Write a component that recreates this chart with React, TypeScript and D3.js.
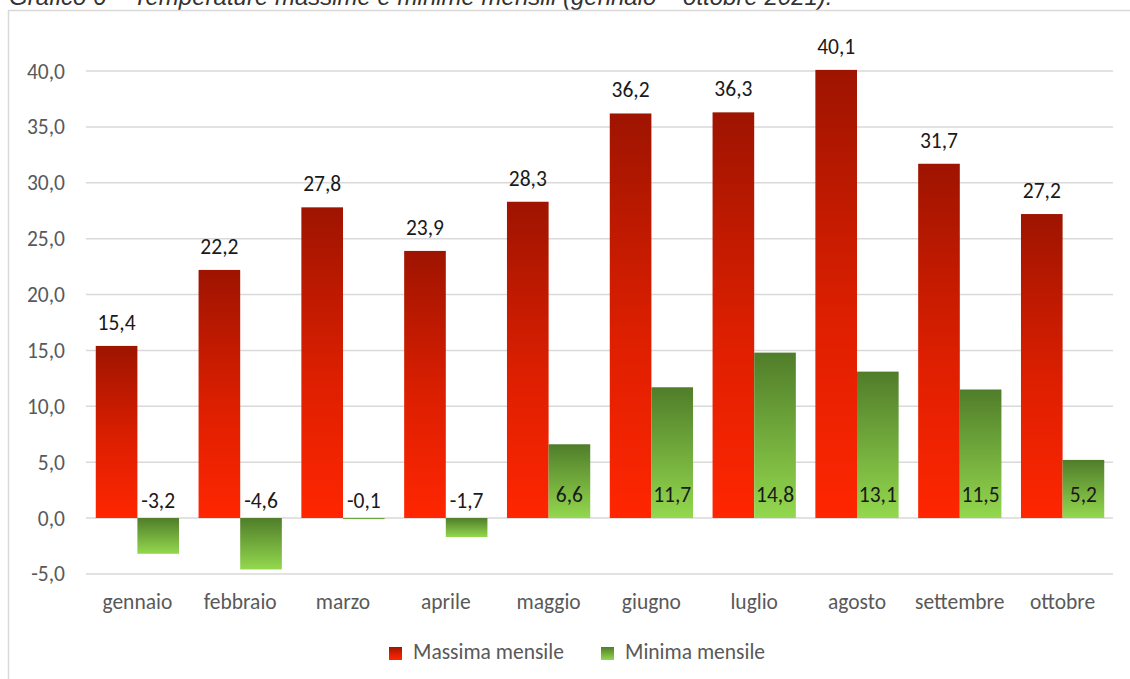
import React from "react";
import * as d3 from "d3";

const months = ["gennaio","febbraio","marzo","aprile","maggio","giugno","luglio","agosto","settembre","ottobre"];
const maxVals = [15.4,22.2,27.8,23.9,28.3,36.2,36.3,40.1,31.7,27.2];
const minVals = [-3.2,-4.6,-0.1,-1.7,6.6,11.7,14.8,13.1,11.5,5.2];
const seriesNames = ["Massima mensile","Minima mensile"];
const yTicks = [-5,0,5,10,15,20,25,30,35,40];

const W = 1130, H = 679;
const FONT = "Carlito, Calibri, Lato, sans-serif";
const FS = 21.5;

export default function App() {
  const x0 = d3.scaleBand<string>().domain(months).range([86, 1114]).paddingInner(0.19).paddingOuter(0.095);
  const x1 = d3.scaleBand<string>().domain(seriesNames).range([0, x0.bandwidth()]);
  const y = d3.scaleLinear().domain([-5, 40]).range([573.9, 71]);
  const fmt = (v: number) => v.toFixed(1).replace(".", ",");
  const series = [maxVals, minVals];
  const grads = ["gRed", "gGreen"];

  return (
    <svg width={W} height={H} style={{ position: "absolute", left: 0, top: 0 }} fontFamily={FONT}>
      <defs>
        <linearGradient id="gRed" x1="0" y1="0" x2="0" y2="1">
          <stop offset="0" stopColor="#9E1400" />
          <stop offset="0.55" stopColor="#DD1F00" />
          <stop offset="1" stopColor="#FF2600" />
        </linearGradient>
        <linearGradient id="gGreen" x1="0" y1="0" x2="0" y2="1">
          <stop offset="0" stopColor="#507D2A" />
          <stop offset="1" stopColor="#93D84E" />
        </linearGradient>
      </defs>
      <rect x={0} y={0} width={W} height={H} fill="#fff" />
      <text x={9} y={5} fontFamily="Arial, Liberation Sans, sans-serif" fontStyle="italic" fontSize={24} fill="#333">
        Grafico 6 – Temperature massime e minime mensili (gennaio – ottobre 2021).
      </text>
      <rect x={8.5} y={10.5} width={1140} height={680} fill="#fff" stroke="#D9D9D9" strokeWidth={1.5} />
      {yTicks.map((t) => (
        <g key={t}>
          <line x1={86} x2={1113} y1={y(t)} y2={y(t)} stroke="#D9D9D9" strokeWidth={1.5} />
          <text x={65} y={y(t)} dy="0.35em" textAnchor="end" fontSize={FS} fill="#595959">{fmt(t)}</text>
        </g>
      ))}
      {months.map((m, i) => (
        <g key={m}>
          {series.map((vals, s) => {
            const v = vals[i];
            const bx = (x0(m) as number) + (x1(seriesNames[s]) as number);
            const bw = x1.bandwidth();
            const top = y(Math.max(0, v));
            const h = Math.max(Math.abs(y(v) - y(0)), 1);
            let ly: number;
            if (s === 0) ly = y(v) - 16;
            else if (v >= 0) ly = y(0) - 16;
            else ly = y(0) - 10;
            return (
              <g key={s}>
                <rect x={bx} y={top} width={bw} height={h} fill={`url(#${grads[s]})`} />
                <text x={bx + bw / 2} y={ly} textAnchor="middle" fontSize={FS} fill="#1a1a1a">{fmt(v)}</text>
              </g>
            );
          })}
          <text x={(x0(m) as number) + x0.bandwidth() / 2} y={609} textAnchor="middle" fontSize={FS} fill="#595959">{m}</text>
        </g>
      ))}
      {seriesNames.map((n, s) => {
        const lx = s === 0 ? 389 : 601;
        return (
          <g key={n}>
            <rect x={lx} y={647} width={13} height={13} fill={`url(#${grads[s]})`} />
            <text x={lx + 24} y={659} fontSize={FS} fill="#595959">{n}</text>
          </g>
        );
      })}
    </svg>
  );
}
